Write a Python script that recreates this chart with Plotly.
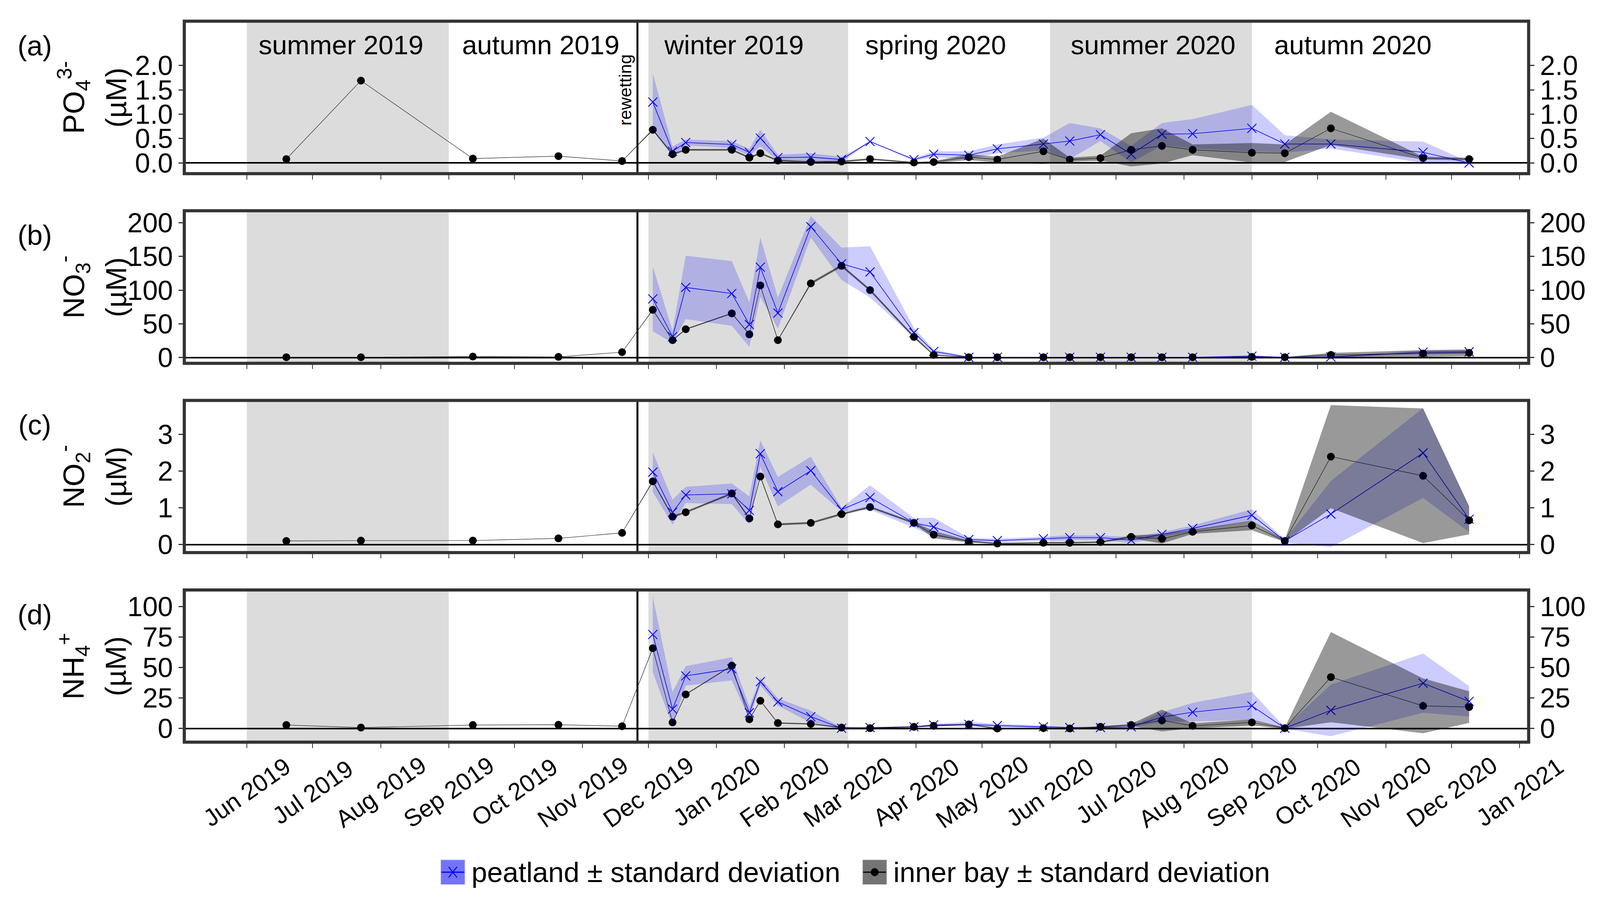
# nutrient time series, peatland vs inner bay, four stacked panels
import plotly.graph_objects as go

# sampling dates
pre_dates = ['2019-06-19', '2019-07-23', '2019-09-12', '2019-10-21', '2019-11-19']
dates = ['2019-12-03', '2019-12-12', '2019-12-18', '2020-01-08', '2020-01-16', '2020-01-21',
         '2020-01-29', '2020-02-13', '2020-02-27', '2020-03-11', '2020-03-31', '2020-04-09',
         '2020-04-25', '2020-05-08', '2020-05-29', '2020-06-10', '2020-06-24', '2020-07-08',
         '2020-07-22', '2020-08-05', '2020-09-01', '2020-09-16', '2020-10-07', '2020-11-18',
         '2020-12-09']
inner_dates = pre_dates + dates

# (a) PO4
po4_inner = [0.08, 1.69, 0.09, 0.14, 0.04,
             0.68, 0.18, 0.27, 0.27, 0.11, 0.20, 0.05,
             0.02, 0.03, 0.08, 0.01, 0.02, 0.12, 0.07, 0.24,
             0.07, 0.10, 0.27, 0.35, 0.27, 0.21, 0.20, 0.71, 0.10, 0.08]
po4_inner_sd = [0, 0, 0, 0, 0,
                0.02, 0.02, 0.02, 0.02, 0.02, 0.02, 0.02,
                0.02, 0.02, 0.02, 0.01, 0.02, 0.06, 0.06, 0.26,
                0.04, 0.05, 0.34, 0.36, 0.11, 0.20, 0.18, 0.34, 0.03, 0.03]
po4_peat = [1.25, 0.24, 0.42, 0.38, 0.22, 0.51, 0.11,
            0.12, 0.07, 0.44, 0.07, 0.18, 0.16, 0.29, 0.39,
            0.45, 0.58, 0.18, 0.59, 0.60, 0.71, 0.39, 0.39, 0.22, 0.00]
po4_peat_sd = [0.59, 0.10, 0.06, 0.07, 0.07, 0.17, 0.06,
               0.08, 0.06, 0.00, 0.02, 0.06, 0.08, 0.09, 0.13,
               0.37, 0.13, 0.17, 0.23, 0.30, 0.48, 0.18, 0.09, 0.22, 0.02]

# (b) NO3
no3_inner = [0.5, 0.5, 1.5, 1.0, 8.0,
             70.8, 25.8, 42.0, 65.5, 34.4, 107.0, 25.8,
             110.0, 136.0, 100.0, 30.6, 4.0, 0.5, 0.5, 0.5,
             0.5, 0.5, 0.5, 0.5, 0.5, 1.0, 0.5, 4.0, 6.0, 7.0]
no3_inner_sd = [0, 0, 0, 0, 0,
                1, 1, 1, 1, 1, 1, 1,
                2, 2, 2, 2, 1, 0.3, 0.3, 0.3,
                0.3, 0.3, 0.3, 0.3, 0.3, 0.5, 0.3, 3, 5, 5]
no3_peat = [87, 31, 104, 95, 49, 134, 66,
            194, 139, 127, 37, 9, 0.5, 0.5, 0.5,
            0.5, 0.5, 0.5, 0.5, 0.5, 2, 0.5, 1, 8, 8.5]
no3_peat_sd = [48, 9, 47, 48, 33, 44, 23,
               16, 24, 38, 7, 3, 0.5, 0.5, 0.5,
               0.5, 0.5, 0.5, 0.5, 0.5, 1.5, 0.5, 1, 3, 3]

# (c) NO2
no2_inner = [0.10, 0.11, 0.11, 0.17, 0.32,
             1.72, 0.76, 0.88, 1.39, 0.71, 1.85, 0.55,
             0.59, 0.83, 1.02, 0.59, 0.27, 0.09, 0.03, 0.05,
             0.05, 0.07, 0.21, 0.16, 0.35, 0.52, 0.10, 2.39, 1.87, 0.66]
no2_inner_sd = [0, 0, 0, 0, 0,
                0.03, 0.03, 0.03, 0.03, 0.03, 0.03, 0.03,
                0.03, 0.03, 0.03, 0.03, 0.10, 0.03, 0.02, 0.02,
                0.02, 0.02, 0.04, 0.13, 0.06, 0.13, 0.03, 1.40, 1.83, 0.38]
no2_peat = [1.97, 0.88, 1.35, 1.38, 0.93, 2.47, 1.44,
            2.01, 0.95, 1.28, 0.59, 0.48, 0.14, 0.11, 0.16,
            0.19, 0.19, 0.12, 0.28, 0.44, 0.80, 0.10, 0.83, 2.49, 0.69]
no2_peat_sd = [0.54, 0.34, 0.22, 0.28, 0.38, 0.36, 0.40,
               0.38, 0.05, 0.33, 0.13, 0.25, 0.05, 0.05, 0.06,
               0.06, 0.06, 0.08, 0.06, 0.08, 0.16, 0.04, 0.90, 1.22, 0.35]

# (d) NH4
nh4_inner = [2.9, 0.8, 2.9, 3.1, 1.9,
             65.9, 5.0, 28.0, 51.6, 7.6, 22.8, 4.5,
             3.8, 0.8, 0.3, 1.4, 2.2, 3.4, 0.0, 0.3,
             0.0, 1.4, 2.9, 6.6, 2.2, 5.0, 0.3, 42.2, 18.6, 17.6]
nh4_inner_sd = [0, 0, 0, 0, 0,
                0.5, 0.5, 0.5, 0.5, 0.5, 0.5, 0.5,
                0.5, 0.5, 0.5, 0.5, 0.5, 0.5, 0.5, 0.5,
                0.5, 0.5, 0.8, 9.0, 2.0, 2.5, 0.5, 37.0, 22.5, 13.0]
nh4_peat = [77.2, 16.0, 43.2, 49.0, 12.9, 38.5, 21.8,
            9.7, 0.3, 0.8, 1.4, 2.9, 3.4, 2.4, 1.4,
            0.8, 0.8, 1.4, 9.4, 13.4, 18.6, 0.3, 14.9, 37.2, 22.3]
nh4_peat_sd = [31, 14, 8, 9.5, 5, 3, 3,
               5, 0.5, 0.5, 0.5, 1, 2, 1.5, 1,
               0.5, 0.5, 0.5, 4, 7.6, 11.5, 0.5, 21.2, 24.3, 12.5]

# seasons, rewetting, axis ticks
seasons_shaded = [('2019-06-01', '2019-09-01'), ('2019-12-01', '2020-03-01'), ('2020-06-01', '2020-09-01')]
season_names = ['summer 2019', 'autumn 2019', 'winter 2019', 'spring 2020', 'summer 2020', 'autumn 2020']
season_label_dates = ['2019-07-14', '2019-10-13', '2020-01-09', '2020-04-10', '2020-07-18', '2020-10-17']
rewetting_date = '2019-11-26'
month_ticks = ['2019-06-01', '2019-07-01', '2019-08-01', '2019-09-01', '2019-10-01', '2019-11-01',
               '2019-12-01', '2020-01-01', '2020-02-01', '2020-03-01', '2020-04-01', '2020-05-01',
               '2020-06-01', '2020-07-01', '2020-08-01', '2020-09-01', '2020-10-01', '2020-11-01',
               '2020-12-01', '2021-01-01']
month_labels = ['Jun 2019', 'Jul 2019', 'Aug 2019', 'Sep 2019', 'Oct 2019', 'Nov 2019',
                'Dec 2019', 'Jan 2020', 'Feb 2020', 'Mar 2020', 'Apr 2020', 'May 2020',
                'Jun 2020', 'Jul 2020', 'Aug 2020', 'Sep 2020', 'Oct 2020', 'Nov 2020',
                'Dec 2020', 'Jan 2021']

panel_letters = ['(a)', '(b)', '(c)', '(d)']
panel_species = ['PO<sub>4</sub><sup>3-</sup>', 'NO<sub>3</sub><sup>-</sup>',
                 'NO<sub>2</sub><sup>-</sup>', 'NH<sub>4</sub><sup>+</sup>']
unit_label = '(µM)'
y_tickvals = [[0, 0.5, 1, 1.5, 2], [0, 50, 100, 150, 200], [0, 1, 2, 3], [0, 25, 50, 75, 100]]
y_ticktext = [['0.0', '0.5', '1.0', '1.5', '2.0'], ['0', '50', '100', '150', '200'],
              ['0', '1', '2', '3'], ['0', '25', '50', '75', '100']]

panels = [(po4_inner, po4_inner_sd, po4_peat, po4_peat_sd),
          (no3_inner, no3_inner_sd, no3_peat, no3_peat_sd),
          (no2_inner, no2_inner_sd, no2_peat, no2_peat_sd),
          (nh4_inner, nh4_inner_sd, nh4_peat, nh4_peat_sd)]

# layout geometry, measured in pixels of the 4205x2346 reference and used as fractions
W, H = 4205, 2346
x_dom = [478 / W, 4025 / W]
panel_px = [(39, 438), (535, 934), (1031, 1429), (1527, 1925)]
y_ranges = [[-0.22, 2.91], [-8.5, 217.6], [-0.215, 3.918], [-11.2, 113.7]]
x_range = ['2019-05-03 12:00', '2021-01-05 03:00']

BLUE = '#0000ff'
BLUE_BAND = 'rgba(0,0,255,0.2)'
GREY_BAND = 'rgba(0,0,0,0.4)'
FRAME = '#333333'
FONT = 'Liberation Sans'

fig = go.Figure()
shapes = []
annotations = []
layout_axes = {}

for i, (inner, inner_sd, peat, peat_sd) in enumerate(panels):
    n = i + 1
    sfx = '' if n == 1 else str(n)
    xa, ya = 'x' + sfx, 'y' + sfx
    ya_right = 'y' + str(n + 4)

    # mean lines first, the translucent bands are laid over them
    fig.add_trace(go.Scatter(x=dates, y=peat, xaxis=xa, yaxis=ya, mode='lines+markers',
                             name='peatland', showlegend=False,
                             line=dict(color=BLUE, width=1.6),
                             marker=dict(symbol='x-thin', size=23, color=BLUE,
                                         line=dict(color=BLUE, width=2.2))))
    fig.add_trace(go.Scatter(x=inner_dates, y=inner, xaxis=xa, yaxis=ya, mode='lines+markers',
                             name='inner bay', showlegend=False,
                             line=dict(color='#222222', width=1.2),
                             marker=dict(symbol='circle', size=20, color='black')))

    peat_lo = [m - s for m, s in zip(peat, peat_sd)]
    peat_hi = [m + s for m, s in zip(peat, peat_sd)]
    inner_lo = [m - s for m, s in zip(inner, inner_sd)]
    inner_hi = [m + s for m, s in zip(inner, inner_sd)]
    fig.add_trace(go.Scatter(x=dates, y=peat_lo, xaxis=xa, yaxis=ya, mode='lines',
                             line=dict(width=0), showlegend=False, hoverinfo='skip'))
    fig.add_trace(go.Scatter(x=dates, y=peat_hi, xaxis=xa, yaxis=ya, mode='lines',
                             line=dict(width=0), fill='tonexty', fillcolor=BLUE_BAND,
                             showlegend=False, hoverinfo='skip'))
    fig.add_trace(go.Scatter(x=inner_dates, y=inner_lo, xaxis=xa, yaxis=ya, mode='lines',
                             line=dict(width=0), showlegend=False, hoverinfo='skip'))
    fig.add_trace(go.Scatter(x=inner_dates, y=inner_hi, xaxis=xa, yaxis=ya, mode='lines',
                             line=dict(width=0), fill='tonexty', fillcolor=GREY_BAND,
                             showlegend=False, hoverinfo='skip'))

    # transparent copy so the right-hand axis gets drawn
    fig.add_trace(go.Scatter(x=inner_dates, y=inner, xaxis=xa, yaxis=ya_right, mode='markers',
                             marker=dict(opacity=0), showlegend=False, hoverinfo='skip'))

    top, bottom = panel_px[i]
    ydom = [1 - bottom / H, 1 - top / H]
    layout_axes['xaxis' + sfx] = dict(domain=x_dom, range=x_range, anchor=ya, type='date',
                                      showgrid=False, zeroline=False, showline=False,
                                      ticks='outside', tickvals=month_ticks, ticklen=14,
                                      tickwidth=2, tickcolor=FRAME, showticklabels=False)
    common_y = dict(range=y_ranges[i], showgrid=False, showline=False, ticks='outside',
                    ticklen=14, tickwidth=3, tickcolor=FRAME,
                    tickvals=y_tickvals[i], ticktext=y_ticktext[i],
                    tickfont=dict(size=70, color='black', family=FONT))
    layout_axes['yaxis' + sfx] = dict(domain=ydom, anchor=xa, zeroline=True,
                                      zerolinecolor='black', zerolinewidth=4, **common_y)
    layout_axes['yaxis' + str(n + 4)] = dict(overlaying=ya, side='right', anchor=xa,
                                            zeroline=False, **common_y)

    # season shading, rewetting line, panel frame
    for s0, s1 in seasons_shaded:
        shapes.append(dict(type='rect', xref=xa, yref=ya + ' domain', x0=s0, x1=s1, y0=0, y1=1,
                           fillcolor='#dcdcdc', line=dict(width=0), layer='below'))
    shapes.append(dict(type='line', xref=xa, yref=ya + ' domain', x0=rewetting_date,
                       x1=rewetting_date, y0=0, y1=1, line=dict(color='black', width=5),
                       layer='below'))
    shapes.append(dict(type='rect', xref=xa + ' domain', yref=ya + ' domain', x0=0, x1=1,
                       y0=0, y1=1, line=dict(color=FRAME, width=8), layer='above'))

    # panel letter and the two lines of the y title
    mid = 1 - (top + bottom) / 2 / H
    annotations.append(dict(text=panel_letters[i], x=83 / W, y=1 - (top + 64) / H,
                            xref='paper', yref='paper', xanchor='center', yanchor='middle',
                            showarrow=False, font=dict(size=72, family=FONT, color='black')))
    annotations.append(dict(text=panel_species[i], x=186 / W, y=mid, xref='paper', yref='paper',
                            xanchor='center', yanchor='middle', textangle=-90, showarrow=False,
                            font=dict(size=76, family=FONT, color='black')))
    annotations.append(dict(text=unit_label, x=298 / W, y=mid, xref='paper', yref='paper',
                            xanchor='center', yanchor='middle', textangle=-90, showarrow=False,
                            font=dict(size=74, family=FONT, color='black')))

# season names and rewetting label in panel (a)
for name, d in zip(season_names, season_label_dates):
    annotations.append(dict(text=name, x=d, y=2.42, xref='x', yref='y', showarrow=False,
                            xanchor='center', yanchor='middle',
                            font=dict(size=69, family=FONT, color='black')))
annotations.append(dict(text='rewetting', x=rewetting_date, y=1.5, xref='x', yref='y',
                        textangle=-90, xanchor='right', yanchor='middle', xshift=-4,
                        showarrow=False, font=dict(size=45, family=FONT, color='black')))

# rotated date labels under the bottom panel
for t, lab in zip(month_ticks, month_labels):
    annotations.append(dict(text=lab, x=t, y=1 - 2055 / H, xref='x4', yref='paper',
                            textangle=-35, xanchor='center', yanchor='middle', showarrow=False,
                            font=dict(size=62, family=FONT, color='black')))

# hand-made legend
def px(x):
    return x / W

def py(y):
    return 1 - y / H

legend_items = [('peatland ± standard deviation', 1154, '#7474f8', BLUE, 'x'),
                ('inner bay ± standard deviation', 2267, '#747474', 'black', 'dot')]
for text, x0, box, col, kind in legend_items:
    shapes.append(dict(type='rect', xref='paper', yref='paper', x0=px(x0), x1=px(x0 + 65),
                       y0=py(2298), y1=py(2232), fillcolor=box,
                       line=dict(color='#eeeeee', width=2)))
    shapes.append(dict(type='line', xref='paper', yref='paper', x0=px(x0 + 2), x1=px(x0 + 63),
                       y0=py(2265), y1=py(2265), line=dict(color=col, width=3)))
    cx = x0 + 32.5
    if kind == 'x':
        shapes.append(dict(type='line', xref='paper', yref='paper', x0=px(cx - 11), x1=px(cx + 11),
                           y0=py(2251), y1=py(2279), line=dict(color=col, width=2.5)))
        shapes.append(dict(type='line', xref='paper', yref='paper', x0=px(cx - 11), x1=px(cx + 11),
                           y0=py(2279), y1=py(2251), line=dict(color=col, width=2.5)))
    else:
        shapes.append(dict(type='circle', xref='paper', yref='paper', x0=px(cx - 10), x1=px(cx + 10),
                           y0=py(2275), y1=py(2255), fillcolor=col, line=dict(color=col, width=1)))
    annotations.append(dict(text=text, x=px(x0 + 80), y=py(2265), xref='paper', yref='paper',
                            xanchor='left', yanchor='middle', showarrow=False,
                            font=dict(size=72, family=FONT, color='black')))

# no fixed width/height: the figure fills the browser window
fig.update_layout(
    autosize=True,
    margin=dict(l=0, r=0, t=0, b=0),
    paper_bgcolor='white', plot_bgcolor='white',
    font=dict(family=FONT, color='black'),
    showlegend=False,
    shapes=shapes,
    annotations=annotations,
    **layout_axes
)

fig.write_html("out.html", default_width='calc(100vw - 16px)', default_height='calc(100vh - 16px)')
